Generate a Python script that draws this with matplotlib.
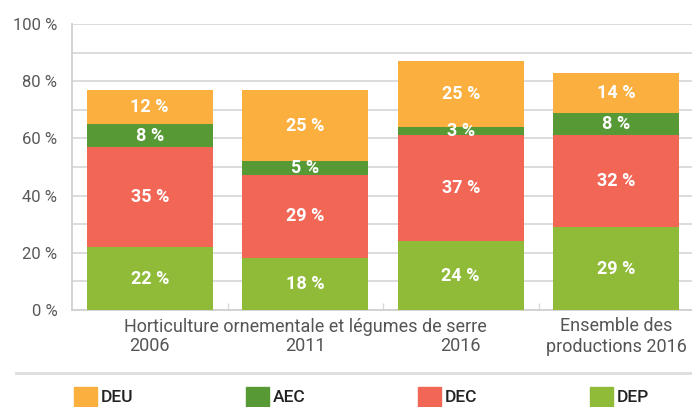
import matplotlib
matplotlib.use("Agg")
import matplotlib.pyplot as plt
from matplotlib.patches import Rectangle
from matplotlib.lines import Line2D
import numpy as np

plt.rcParams["font.family"] = ["Roboto", "DejaVu Sans"]
plt.rcParams["font.stretch"] = "condensed"

# stacked from bottom: DEP, DEC, AEC, DEU
series = ["DEP", "DEC", "AEC", "DEU"]
colors = {"DEP": "#8fbb39", "DEC": "#f26656", "AEC": "#579a35", "DEU": "#fbaf3f"}

dep = [22.0, 18.2, 24.1, 29.0]
dec = [35.0, 29.0, 37.1, 32.2]
aec = [8.0, 4.9, 2.8, 7.7]
deu = [11.9, 24.8, 23.1, 14.0]

dep_labels = ["22 %", "18 %", "24 %", "29 %"]
dec_labels = ["35 %", "29 %", "37 %", "32 %"]
aec_labels = ["8 %", "5 %", "3 %", "8 %"]
deu_labels = ["12 %", "25 %", "25 %", "14 %"]

years = ["2006", "2011", "2016"]
group_label = "Horticulture ornementale et légumes de serre"
last_label = "Ensemble des\nproductions 2016"

legend_order = ["DEU", "AEC", "DEC", "DEP"]

values = {"DEP": dep, "DEC": dec, "AEC": aec, "DEU": deu}
labels = {"DEP": dep_labels, "DEC": dec_labels, "AEC": aec_labels, "DEU": deu_labels}

fig = plt.figure(figsize=(6.92, 4.07), dpi=100)
ax = fig.add_axes([72 / 692, 97 / 407, 622 / 692, 286 / 407])

x = np.arange(4)
bottom = np.zeros(4)
for name in series:
    vals = np.array(values[name])
    ax.bar(x, vals, width=0.81, bottom=bottom, color=colors[name], zorder=3)
    for xi, b, v, lab in zip(x, bottom, vals, labels[name]):
        ax.text(xi, b + v / 2, lab, ha="center", va="center", color="white",
                fontsize=13, fontweight="bold", zorder=4)
    bottom += vals

ax.set_xlim(-0.5, 3.5)
ax.set_ylim(0, 100)
ax.set_yticks(np.arange(0, 101, 20))
ax.set_yticklabels([f"{v} %" for v in range(0, 101, 20)], fontsize=12, color="#595959")
ax.set_yticks(np.arange(0, 101, 10), minor=True)
ax.yaxis.grid(True, which="both", color="#d9d9d9", linewidth=1.3, zorder=0)
ax.tick_params(axis="y", which="both", length=0, pad=10.5)

ax.set_xticks([0.5, 1.5, 2.5])
ax.set_xticklabels([])
ax.tick_params(axis="x", length=5, color="#d9d9d9", direction="in", width=1)

for side in ["top", "right"]:
    ax.spines[side].set_visible(False)
for side in ["left", "bottom"]:
    ax.spines[side].set_color("#d0d0d0")
    ax.spines[side].set_linewidth(1.3)

text_color = "#555555"
xform = ax.get_xaxis_transform()
ax.text(1.0, -17 / 286, group_label, transform=xform,
        ha="center", va="center", fontsize=13, color=text_color)
for xi, yr in zip(x[:3], years):
    ax.text(xi, -36 / 286, yr, transform=xform,
            ha="center", va="center", fontsize=13, color=text_color)
ax.text(3, -26.5 / 286, last_label, transform=xform,
        ha="center", va="center", fontsize=13, color=text_color, linespacing=1.15)

# separator line
fig.add_artist(Line2D([16 / 692, 1.0], [1 - 373 / 407, 1 - 373 / 407],
                      transform=fig.transFigure, color="#dddddd", linewidth=2))

# legend
leg_x = [74, 246, 418, 590]
for lx, name in zip(leg_x, legend_order):
    fig.add_artist(Rectangle((lx / 692, 0), 23 / 692, 20 / 407,
                             transform=fig.transFigure, color=colors[name]))
    fig.text((lx + 27) / 692, 1 - 398 / 407, name, ha="left", va="center",
             fontsize=12.5, fontweight="medium", color="#222222")

fig.savefig("out.png", dpi=100)
